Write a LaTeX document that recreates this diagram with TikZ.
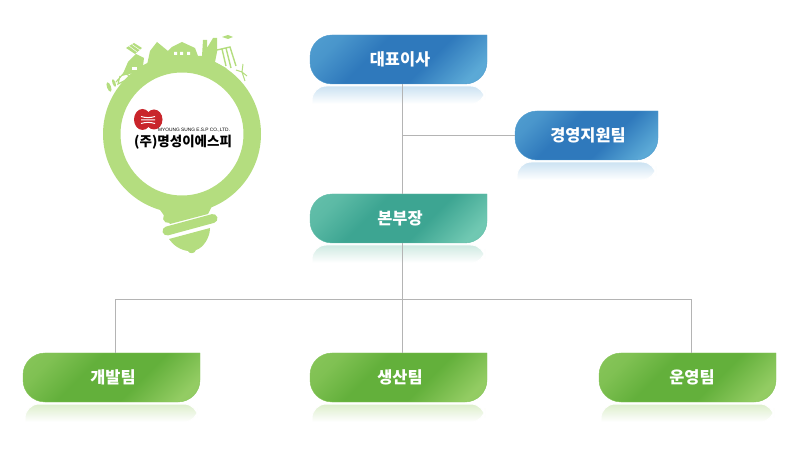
\documentclass[tikz,border=0pt]{standalone}
\usepackage{fontspec}
\newfontfamily\cjk{Noto Sans CJK KR}
\newfontfamily\latinsans{Liberation Sans}
\usepackage{xcolor}
\usetikzlibrary{positioning,calc}
\definecolor{bulbgreen}{HTML}{B4DD7F}
\definecolor{wiregray}{HTML}{B4B4B4}
\definecolor{logored}{HTML}{C9252B}
\definecolor{bluelight}{HTML}{5BA9D6}
\definecolor{bluedark}{HTML}{2F79BC}
\definecolor{blueshine}{HTML}{CBE2F2}
\definecolor{teallight}{HTML}{70C8B2}
\definecolor{tealdark}{HTML}{3DA592}
\definecolor{tealshine}{HTML}{CFEAE2}
\definecolor{greenlight}{HTML}{93CC63}
\definecolor{greendark}{HTML}{63B03B}
\definecolor{greenshine}{HTML}{DCEECB}
\pgfdeclarehorizontalshading{blueshade}{100bp}{color(0bp)=(bluelight); color(25bp)=(bluelight!60!bluedark); color(40bp)=(bluedark); color(60bp)=(bluedark); color(78bp)=(bluelight); color(100bp)=(bluelight)}
\pgfdeclarehorizontalshading{tealshade}{100bp}{color(0bp)=(teallight); color(25bp)=(teallight!60!tealdark); color(40bp)=(tealdark); color(60bp)=(tealdark); color(78bp)=(teallight); color(100bp)=(teallight)}
\pgfdeclarehorizontalshading{greenshade}{100bp}{color(0bp)=(greenlight); color(25bp)=(greenlight!60!greendark); color(40bp)=(greendark); color(60bp)=(greendark); color(78bp)=(greenlight); color(100bp)=(greenlight)}
\tikzset{
  orgbox/.style={minimum height=49pt, inner sep=0pt, text=white,
    font=\cjk\bfseries\fontsize{16.4}{16}\selectfont,
    execute at begin node=\hspace*{3pt}},
  wire/.style={wiregray, line width=1pt},
  bulb/.style={fill=bulbgreen, draw=none},
  bulbbar/.style={bulbgreen, line width=#1, line cap=round}
}
\begin{document}
\begin{tikzpicture}[x=1pt, y=-1pt]
  \useasboundingbox (0,0) rectangle (804,449);
  % boxes and their reflections
  \foreach \boxname/\cx/\cy/\boxw/\tone/\txt in {
      ceo/398.5/59.5/177/blue/대표이사,
      support/586.5/135.5/143/blue/경영지원팀,
      hq/398.5/218.5/177/teal/본부장,
      dev/111.5/377.5/177/green/개발팀,
      prod/398.5/377.5/177/green/생산팀,
      ops/687.5/377.5/177/green/{\hspace*{6pt}운영팀}}{
    \pgfmathsetmacro{\lx}{\cx-\boxw/2}
    \pgfmathsetmacro{\rx}{\cx+\boxw/2}
    \pgfmathsetmacro{\ty}{\cy-24.5}
    \pgfmathsetmacro{\by}{\cy+24.5}
    \path[top color=\tone shine, bottom color=white, rounded corners=14pt, draw=white, line width=1pt]
      (\lx+2,\by+20) -- (\lx+2,\by+2) -- (\rx-2,\by+2) -- (\rx-2,\by+20) [sharp corners] -- (\lx+2,\by+20);
    \path[shading=\tone shade, shading angle=-45, rounded corners=22pt,
        draw=\tone light!70!\tone dark, line width=.4pt]
      (\rx,\ty) -- (\lx,\ty) -- (\lx,\by) -- (\rx,\by) -- (\rx,\ty);
    \node[orgbox, minimum width=\boxw pt] (\boxname) at (\cx,\cy) {\txt};
  }
  % connectors
  \coordinate (trunk) at (402.5,299.5);
  \coordinate (devdrop) at (115.5,299.5);
  \coordinate (opsdrop) at (691,299.5);
  \draw[wire] (ceo.south -| trunk) -- (hq.north -| trunk);
  \draw[wire] (support.west -| trunk) -- (support.west);
  \draw[wire] (hq.south -| trunk) -- (prod.north -| trunk);
  \draw[wire] (dev.north -| devdrop) -- (devdrop) -- (opsdrop) -- (ops.north -| opsdrop);
  % bulb
  \fill[bulb, even odd rule] (182,134) circle (79) (182,134) circle (61.5);
  \fill[bulb] (158,207) -- (216,198) -- (208,214) -- (170,224) -- cycle;
  \draw[bulbbar=10pt] (168,218) -- (205,208);
  \draw[bulbbar=9pt] (167,231) -- (213,218.5);
  \fill[bulb] (169,239) -- (210,228) .. controls (210,238) and (203,248) .. (196,250)
    .. controls (195,254) and (189,254) .. (188,251) .. controls (180,250) and (173,245) .. (169,239) -- cycle;
  % city on top of the bulb
  \fill[bulb] (122,76) -- (128,62) -- (136,54) -- (144,58) -- (143,66) -- (147,65) -- (150,51)
    -- (157,42) -- (168,51) -- (172,47) -- (182,42) -- (195,48) -- (198,56) -- (202,56)
    -- (203,40) -- (207,40) -- (207,48) -- (213,38) -- (217,38) -- (217,52) -- (215,62)
    -- (226,68) -- (236,82) -- (182,60) -- cycle;
  \fill[white] (180,52) rectangle (183,55) (187,52) rectangle (190,55) (174,52) rectangle (177,55);
  \fill[white] (132,67) rectangle (137,70);
  \fill[bulb] (222,37) -- (228,35) -- (233,37) -- (228,39) -- cycle;
  \draw[bulbgreen, line width=1.4pt] (217,50) -- (230,47) -- (236,66) (222,49) -- (226,66) (226,48) -- (231,68);
  \draw[bulbgreen, line width=1pt] (242,72) -- (245,81) (242,72) -- (236,70) (242,72) -- (243,64) (242,72) -- (247,76);
  \fill[bulb] (126,48) -- (134,43) -- (142,48) -- (135,54) -- cycle;
  \draw[white, line width=.5pt] (129,46) -- (137,52) (132,44.5) -- (140,50);
  \fill[bulb, rotate around={20:(109,87)}] (109,87) ellipse (2 and 5);
  \fill[bulb, rotate around={20:(114,83)}] (114,83) ellipse (1.5 and 4);
  \draw[bulbgreen, line width=1.2pt] (116,82) -- (124,73) -- (130,76) (120,76) -- (118,84) -- (126,80);
  % logo
  \fill[logored] (142.5,119.5) ellipse (8.5 and 10.5);
  \fill[logored] (154,119.5) ellipse (8.5 and 10);
  \fill[logored] (145,114) rectangle (152,125);
  \fill[white] (145,107.5) .. controls (147,110) and (150,110) .. (152,107.5) -- cycle;
  \fill[white] (145,131.5) .. controls (147,129) and (150,129) .. (152,131.5) -- cycle;
  \draw[white, line width=1pt] (141,116.5) .. controls (146,118) and (150,118) .. (155,116.5)
    (141,120) -- (155,120) (141,123.5) .. controls (146,122) and (150,122) .. (155,123.5);
  \node[inner sep=0pt, anchor=west, text=black, font=\latinsans\fontsize{4.8}{6}\selectfont] (logoname) at (158,130.5) {MYOUNG SUNG E.S.P CO.,LTD.};
  \node[inner sep=0pt, anchor=west, text=black, font=\cjk\bfseries\fontsize{13.5}{14}\selectfont] (logokor) at (134,142) {(주)명성이에스피};
\end{tikzpicture}
\end{document}
